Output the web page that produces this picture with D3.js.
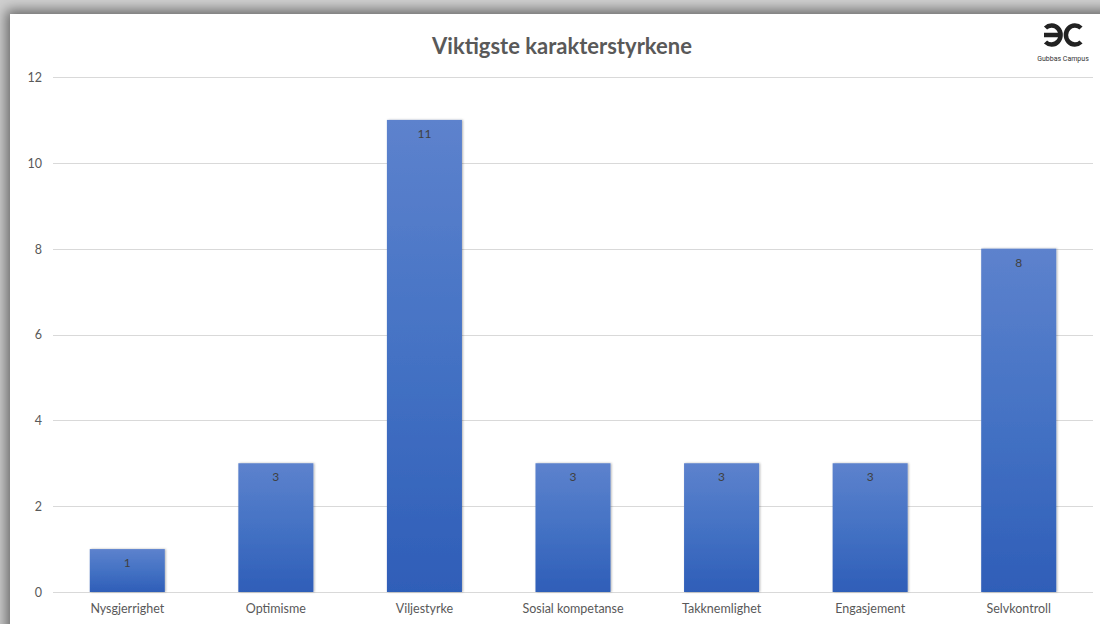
<!DOCTYPE html>
<html><head><meta charset="utf-8">
<script src="https://cdn.jsdelivr.net/npm/d3@7"></script>
<style>
html,body{margin:0;padding:0;width:1100px;height:624px;overflow:hidden;background:#d0d0d0;}
#card{position:absolute;left:10px;top:14px;width:1110px;height:640px;background:#fff;box-shadow:0 0 12px 4px rgba(0,0,0,0.5);}
svg{position:absolute;left:0;top:0;}
</style></head>
<body>
<div id="card"></div>
<svg id="chart" width="1100" height="624"></svg>
<script>
const categories = ["Nysgjerrighet","Optimisme","Viljestyrke","Sosial kompetanse","Takknemlighet","Engasjement","Selvkontroll"];
const values = [1,3,11,3,3,3,8];
const yTicks = [0,2,4,6,8,10,12];
const title = "Viktigste karakterstyrkene";
const logoText = "Gubbas Campus";

const svg = d3.select("#chart");
const font = "Lato, 'Open Sans', sans-serif";
const x = d3.scaleBand().domain(categories).range([53,1093]).paddingInner(0.495).paddingOuter(0.2475);
const y = d3.scaleLinear().domain([0,12]).range([592,77]);

const defs = svg.append("defs");
const grad = defs.append("linearGradient").attr("id","barGrad").attr("x1",0).attr("y1",0).attr("x2",0).attr("y2",1);
grad.append("stop").attr("offset","0%").attr("stop-color","#5d82cd");
grad.append("stop").attr("offset","50%").attr("stop-color","#4472c4");
grad.append("stop").attr("offset","100%").attr("stop-color","#2f5eb8");
const f = defs.append("filter").attr("id","sh").attr("x","-20%").attr("y","-20%").attr("width","140%").attr("height","140%");
f.append("feDropShadow").attr("dx",1).attr("dy",0).attr("stdDeviation",1.2).attr("flood-color","#000").attr("flood-opacity",0.3);

// gridlines
svg.append("g").selectAll("line").data(yTicks).join("line")
  .attr("x1",53).attr("x2",1093).attr("y1",d=>Math.round(y(d))+0.5).attr("y2",d=>Math.round(y(d))+0.5)
  .attr("stroke","#d9d9d9").attr("stroke-width",1);

// y axis labels
const yAxis = d3.axisLeft(y).tickValues(yTicks).tickSize(0).tickPadding(0);
const ya = svg.append("g").attr("transform","translate(42,0)").call(yAxis);
ya.select(".domain").remove();
ya.selectAll("text").attr("font-family",font).attr("font-size",12.5).attr("fill","#595959").attr("dy","0.35em");

// x axis labels
const xAxis = d3.axisBottom(x).tickSize(0).tickPadding(0);
const xa = svg.append("g").attr("transform","translate(0,604)").call(xAxis);
xa.select(".domain").remove();
xa.selectAll("text").attr("font-family",font).attr("font-size",12.5).attr("fill","#595959").attr("dy","0.71em");

// bars
svg.append("g").selectAll("rect").data(values).join("rect")
  .attr("x",(d,i)=>x(categories[i])).attr("width",x.bandwidth())
  .attr("y",d=>y(d)).attr("height",d=>y(0)-y(d))
  .attr("fill","url(#barGrad)").attr("filter","url(#sh)");

// value labels
svg.append("g").selectAll("text").data(values).join("text")
  .attr("x",(d,i)=>x(categories[i])+x.bandwidth()/2).attr("y",d=>y(d)+18)
  .attr("text-anchor","middle").attr("font-family",font).attr("font-size",12).attr("fill","#404040")
  .text(d=>d);

// title
svg.append("text").attr("x",562).attr("y",54).attr("text-anchor","middle")
  .attr("font-family",font).attr("font-weight","bold").attr("font-size",22).attr("fill","#595959").text(title);

// logo
const lg = svg.append("g").attr("transform","translate(1063,35)").attr("fill","none").attr("stroke","#222").attr("stroke-width",4.5).attr("stroke-linecap","butt");
lg.append("path").attr("d","M -17.5 -7 A 9 9.5 0 1 1 -17.5 7");
lg.append("path").attr("d","M -19 0 L -1.5 0");
lg.append("path").attr("d","M 18 -7 A 9 9.5 0 1 0 18 7");
svg.append("text").attr("x",1063).attr("y",61).attr("text-anchor","middle")
  .attr("font-family","Roboto, sans-serif").attr("font-size",7).attr("fill","#333").text(logoText);
</script>
</body></html>
